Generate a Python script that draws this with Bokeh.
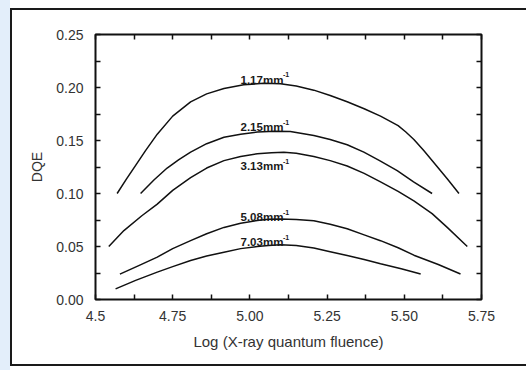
from bokeh.plotting import figure
from bokeh.models import LinearAxis, FixedTicker, Range1d, Spacer, CustomLabelingPolicy
from bokeh.layouts import row
from bokeh.core.properties import value
from bokeh.embed import file_html
from bokeh.resources import INLINE

# ---- data ----
x_117 = [4.570, 4.600, 4.630, 4.662, 4.700, 4.750, 4.808, 4.860, 4.916, 4.980, 5.045, 5.099, 5.150, 5.207, 5.260, 5.315, 5.370, 5.423, 5.480, 5.505, 5.531, 5.563, 5.596, 5.639, 5.677]
y_117 = [0.100, 0.1135, 0.1265, 0.1405, 0.156, 0.173, 0.1865, 0.194, 0.199, 0.2025, 0.204, 0.2035, 0.2015, 0.1975, 0.1925, 0.1865, 0.180, 0.173, 0.164, 0.158, 0.151, 0.1405, 0.129, 0.114, 0.100]

x_215 = [4.646, 4.690, 4.732, 4.770, 4.808, 4.860, 4.916, 4.970, 5.024, 5.080, 5.131, 5.207, 5.260, 5.315, 5.369, 5.420, 5.477, 5.530, 5.590]
y_215 = [0.100, 0.113, 0.124, 0.132, 0.139, 0.147, 0.153, 0.156, 0.158, 0.1588, 0.1585, 0.1547, 0.151, 0.146, 0.139, 0.131, 0.1215, 0.111, 0.100]

x_313 = [4.543, 4.592, 4.650, 4.700, 4.750, 4.808, 4.860, 4.916, 4.970, 5.024, 5.070, 5.110, 5.150, 5.207, 5.260, 5.315, 5.370, 5.423, 5.480, 5.531, 5.590, 5.639, 5.704]
y_313 = [0.050, 0.065, 0.079, 0.090, 0.103, 0.115, 0.124, 0.131, 0.135, 0.1375, 0.1385, 0.1388, 0.138, 0.135, 0.131, 0.126, 0.119, 0.111, 0.102, 0.093, 0.081, 0.068, 0.050]

x_508 = [4.579, 4.640, 4.700, 4.750, 4.808, 4.860, 4.916, 4.970, 5.024, 5.060, 5.099, 5.150, 5.207, 5.260, 5.315, 5.370, 5.423, 5.480, 5.531, 5.610, 5.682]
y_508 = [0.024, 0.032, 0.040, 0.048, 0.0555, 0.062, 0.068, 0.072, 0.0745, 0.0757, 0.076, 0.0755, 0.0742, 0.071, 0.0667, 0.061, 0.0555, 0.0488, 0.0418, 0.033, 0.024]

x_703 = [4.565, 4.630, 4.700, 4.750, 4.808, 4.860, 4.916, 4.970, 5.024, 5.060, 5.099, 5.150, 5.207, 5.260, 5.315, 5.370, 5.423, 5.490, 5.553]
y_703 = [0.010, 0.018, 0.0258, 0.031, 0.0368, 0.041, 0.0446, 0.048, 0.050, 0.051, 0.0516, 0.051, 0.0485, 0.045, 0.0415, 0.0378, 0.0337, 0.029, 0.024]

curve_labels = ["1.17mm", "2.15mm", "3.13mm", "5.08mm", "7.03mm"]
label_x = [5.039, 5.039, 5.039, 5.039, 5.039]
label_y = [0.2075, 0.1625, 0.1255, 0.0776, 0.0541]

xtick_vals = [4.5, 4.75, 5.0, 5.25, 5.5, 5.75]
xtick_labels = ["4.5", "4.75", "5.00", "5.25", "5.50", "5.75"]
xminor_vals = [4.625, 4.875, 5.125, 5.375, 5.625]
ytick_vals = [0.0, 0.05, 0.1, 0.15, 0.2, 0.25]
ytick_labels = ["0.00", "0.05", "0.10", "0.15", "0.20", "0.25"]
yminor_vals = [0.025, 0.075, 0.125, 0.175, 0.225]

FONT = "Liberation Sans"
INK = "#111111"

p = figure(width=516, height=358, x_range=Range1d(4.5, 5.75), y_range=Range1d(0.0, 0.25),
           output_backend="svg", toolbar_location=None,
           min_border_left=83, min_border_right=47, min_border_top=24, min_border_bottom=69)
p.grid.visible = False
p.background_fill_color = "white"
p.border_fill_color = "white"
p.outline_line_color = INK
p.outline_line_width = 2

xt = FixedTicker(ticks=xtick_vals, minor_ticks=xminor_vals)
yt = FixedTicker(ticks=ytick_vals, minor_ticks=yminor_vals)

hide_all = CustomLabelingPolicy(code="""
const all = [...indices];
for (const i of all) { indices.unset(i); }
return indices;
""")


def style_axis(ax, ticker, show_labels):
    ax.ticker = ticker
    ax.axis_line_color = None
    ax.major_tick_in = 5
    ax.major_tick_out = 0
    ax.minor_tick_in = 5
    ax.minor_tick_out = 0
    ax.major_tick_line_color = INK
    ax.minor_tick_line_color = INK
    ax.major_tick_line_width = 1.5
    ax.minor_tick_line_width = 1.5
    ax.major_label_text_font = FONT
    ax.major_label_text_font_size = "14px"
    ax.major_label_text_color = "#333333"
    ax.axis_label_text_font = FONT
    ax.axis_label_text_font_style = "normal"
    ax.axis_label_text_color = "#333333"
    if not show_labels:
        ax.major_label_policy = hide_all
        ax.major_label_standoff = 0


xa = p.xaxis[0]
style_axis(xa, xt, True)
xa.major_label_overrides = dict(zip(xtick_vals, xtick_labels))
xa.major_label_standoff = 11
xa.axis_label = "Log (X-ray quantum fluence)"
xa.axis_label_text_font_size = "15px"
xa.axis_label_standoff = 9

ya = p.yaxis[0]
style_axis(ya, yt, True)
ya.major_label_overrides = dict(zip(ytick_vals, ytick_labels))
ya.major_label_standoff = 12
ya.axis_label = "DQE"
ya.axis_label_text_font_size = "14px"
ya.axis_label_standoff = 8

top = LinearAxis()
style_axis(top, xt, False)
p.add_layout(top, "above")
right = LinearAxis()
style_axis(right, yt, False)
p.add_layout(right, "right")

for xs, ys in [(x_117, y_117), (x_215, y_215), (x_313, y_313), (x_508, y_508), (x_703, y_703)]:
    p.line(xs, ys, line_color=INK, line_width=1.5, line_join="round")

p.text(x=label_x, y=label_y, text=curve_labels, text_font=value(FONT), text_font_style="bold",
       text_font_size="11.5px", text_align="center", text_baseline="alphabetic", text_color="#1a1a1a")
p.text(x=label_x, y=label_y, text=["-1"] * len(curve_labels), text_font=value(FONT),
       text_font_style="bold", text_font_size="7px", text_align="left", text_baseline="alphabetic",
       x_offset=21, y_offset=-5, text_color="#1a1a1a")

p.styles = {"border-left": "2px solid #1a1a1a", "border-top": "2px solid #1a1a1a",
            "border-bottom": "2px solid #1a1a1a"}
p.margin = (8, 0, 0, 0)

strip = Spacer(width=10, height=370, styles={"background-color": "#e3eefa"})
layout = row(strip, p)

open("out.html", "w").write(file_html(layout, INLINE))
